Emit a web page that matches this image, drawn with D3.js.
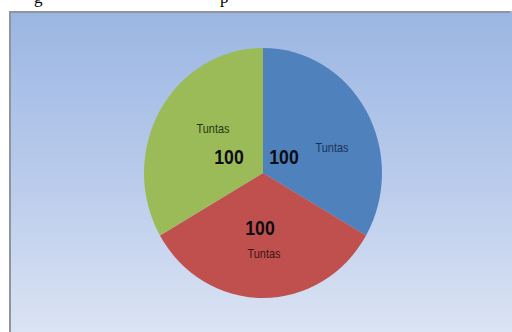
<!DOCTYPE html>
<meta charset="utf-8">
<html>
<script src="https://d3js.org/d3.v7.min.js"></script>
<style>
  body { margin: 0; background: #ffffff; }
</style>
<body>
<div id="my_dataviz"></div>
<script>
    // data
    const categories = ["Tuntas", "Tuntas", "Tuntas"];
    const values = [100, 100, 100];
    const colors = ["#4f81bd", "#c0504d", "#9bbb59"];

    const width = 512, height = 332;
    const cx = 263, cy = 173;
    const rx = 119, ry = 125;

    const svg = d3.select("#my_dataviz")
      .append("svg")
        .attr("width", width)
        .attr("height", height);

    // bits of the document line above, cut off by the crop
    svg.append("text").attr("x", 34).attr("y", 3)
      .style("font-family", "Liberation Serif").style("font-size", "17px")
      .text("g");
    svg.append("text").attr("x", 220).attr("y", 3)
      .style("font-family", "Liberation Serif").style("font-size", "17px")
      .text("p");

    // background gradient of the chart area
    const defs = svg.append("defs");
    const grad = defs.append("linearGradient")
      .attr("id", "bg").attr("x1", 0).attr("y1", 0).attr("x2", 0).attr("y2", 1);
    grad.append("stop").attr("offset", "0%").attr("stop-color", "#9bb6e3");
    grad.append("stop").attr("offset", "55%").attr("stop-color", "#bccdec");
    grad.append("stop").attr("offset", "100%").attr("stop-color", "#dde5f4");

    svg.append("rect")
      .attr("x", 9).attr("y", 11)
      .attr("width", 503).attr("height", 330)
      .attr("fill", "url(#bg)");
    // frame lines (top and left only are visible)
    svg.append("line").attr("x1", 9).attr("x2", 510).attr("y1", 12).attr("y2", 12)
      .attr("stroke", "#8f959c").attr("stroke-width", 2);
    svg.append("line").attr("x1", 10).attr("x2", 10).attr("y1", 11).attr("y2", 332)
      .attr("stroke", "#8f959c").attr("stroke-width", 2);

    const pie = d3.pie().sort(null).value(d => d);
    const arcs = pie(values);
    const arc = d3.arc().innerRadius(0).outerRadius(1);

    const g = svg.append("g")
      .attr("transform", `translate(${cx},${cy}) scale(${rx},${ry})`);
    g.selectAll("path")
      .data(arcs)
      .join("path")
        .attr("d", arc)
        .attr("fill", (d, i) => colors[i]);

    // label layout (offsets from the pie centre)
    const valuePos = [[21, -16], [-3, 55], [-34, -16]];
    const namePos = [[69, -26], [1, 80], [-50, -45]];
    const nameFill = ["#1c3157", "#3a1414", "#26360f"];

    const lab = svg.append("g").attr("transform", `translate(${cx},${cy})`);
    lab.selectAll("text.v")
      .data(arcs)
      .join("text")
        .attr("class", "v")
        .attr("transform", (d, i) => `translate(${valuePos[i][0]},${valuePos[i][1]}) scale(0.84,1)`)
        .attr("dy", "0.35em")
        .attr("text-anchor", "middle")
        .style("font-family", "'Liberation Sans', Arial, sans-serif")
        .style("font-weight", "bold")
        .style("font-size", "21px")
        .style("fill", "#0d0d14")
        .text(d => d.value);
    lab.selectAll("text.n")
      .data(arcs)
      .join("text")
        .attr("class", "n")
        .attr("transform", (d, i) => `translate(${namePos[i][0]},${namePos[i][1]}) scale(0.84,1)`)
        .attr("dy", "0.35em")
        .attr("text-anchor", "middle")
        .style("font-family", "'Liberation Sans', Arial, sans-serif")
        .style("font-size", "13px")
        .style("fill", (d, i) => nameFill[i])
        .text((d, i) => categories[i]);
</script>
</body>
</html>
